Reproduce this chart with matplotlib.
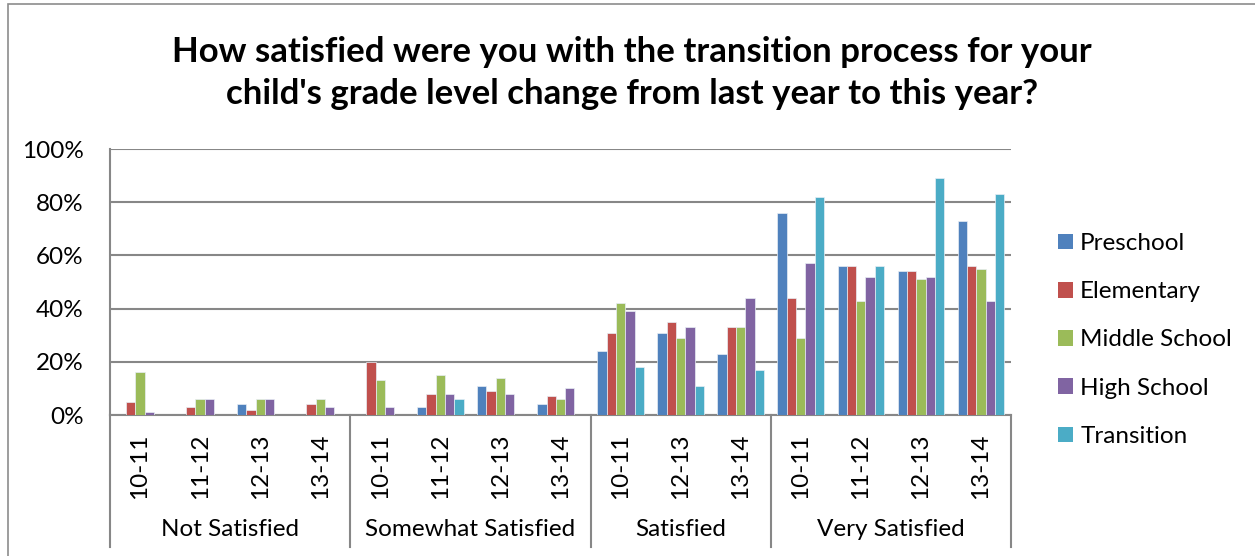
import matplotlib
matplotlib.use("Agg")
import matplotlib.pyplot as plt
import numpy as np
from matplotlib.patches import Patch, Rectangle

title = "How satisfied were you with the transition process for your\nchild's grade level change from last year to this year?"
groups = ["Not Satisfied", "Somewhat Satisfied", "Satisfied", "Very Satisfied"]
group_years = [
    ["10-11", "11-12", "12-13", "13-14"],
    ["10-11", "11-12", "12-13", "13-14"],
    ["10-11", "12-13", "13-14"],
    ["10-11", "11-12", "12-13", "13-14"],
]
series = ["Preschool", "Elementary", "Middle School", "High School", "Transition"]
colors = ["#4F81BD", "#C0504D", "#9BBB59", "#8064A2", "#4BACC6"]

preschool  = [0, 0, 4, 0,   0, 3, 11, 4,   24, 31, 23,   76, 56, 54, 73]
elementary = [5, 3, 2, 4,   20, 8, 9, 7,   31, 35, 33,   44, 56, 54, 56]
middle     = [16, 6, 6, 6,  13, 15, 14, 6, 42, 29, 33,   29, 43, 51, 55]
high       = [1, 6, 6, 3,   3, 8, 8, 10,   39, 33, 44,   57, 52, 52, 43]
transition = [0, 0, 0, 0,   0, 6, 0, 0,    18, 11, 17,   82, 56, 89, 83]
values = [preschool, elementary, middle, high, transition]

W, H = 1255, 556
fig = plt.figure(figsize=(W / 100, H / 100), dpi=100)
plt.rcParams['font.family'] = ['Lato', 'DejaVu Sans']
FS = 17.5

# outer chart border
fig.patches.append(Rectangle((8 / W, -0.1), 2, 1.1 - 4 / H, transform=fig.transFigure,
                             fill=False, edgecolor="#8c8c8c", linewidth=1.2))

x0, x1, ytop, ybot = 110, 1011, 149, 415
ax = fig.add_axes([x0 / W, (H - ybot) / H, (x1 - x0) / W, (ybot - ytop) / H])

labels = [y for g in group_years for y in g]
n = len(labels)
x = np.arange(n)
bw = 0.155
for i, (name, vals, c) in enumerate(zip(series, values, colors)):
    ax.bar(x + (i - 2) * bw, vals, width=bw, color=c, edgecolor="#e8eef5",
           linewidth=0.5, label=name, zorder=3)

ax.set_xlim(-0.5, n - 0.5)
ax.set_ylim(0, 100)
ax.set_yticks([0, 20, 40, 60, 80, 100])
ax.set_yticklabels([f"{v}%" for v in [0, 20, 40, 60, 80, 100]], fontsize=FS)
ax.tick_params(axis="y", length=0, pad=19)
ax.yaxis.grid(True, color="#878787", linewidth=1.5, zorder=0)
ax.set_xticks(x)
ax.set_xticklabels(labels, rotation=90, fontsize=FS, va="top")
ax.tick_params(axis="x", length=0, pad=13)
for s in ["top", "right"]:
    ax.spines[s].set_visible(False)
ax.spines["left"].set_color("#878787")
ax.spines["left"].set_linewidth(1.5)
ax.spines["bottom"].set_color("#878787")
ax.spines["bottom"].set_linewidth(1.5)

# group separators and labels
trans = ax.get_xaxis_transform()
drop = -(547 - ybot) / (ybot - ytop)
bounds = np.cumsum([0] + [len(g) for g in group_years]) - 0.5
for b in bounds:
    ax.plot([b, b], [0, drop], transform=trans, color="#878787", linewidth=1.5, clip_on=False)
ylab = -(530 - ybot) / (ybot - ytop)
for g, a, b in zip(groups, bounds[:-1], bounds[1:]):
    ax.text((a + b) / 2, ylab, g, transform=trans, ha="center", va="center", fontsize=FS)

fig.text(632 / W, 1 - 73 / H, title, ha="center", va="center", fontsize=25,
         fontweight="bold", linespacing=1.38)

handles = [Patch(facecolor=c, edgecolor="none") for c in colors]
fig.legend(handles, series, loc="center left", bbox_to_anchor=(1036 / W, 1 - 340 / H),
           frameon=False, fontsize=FS, handlelength=0.62, handleheight=0.62,
           handletextpad=0.3, labelspacing=1.12)

fig.savefig("out.png", dpi=100)
